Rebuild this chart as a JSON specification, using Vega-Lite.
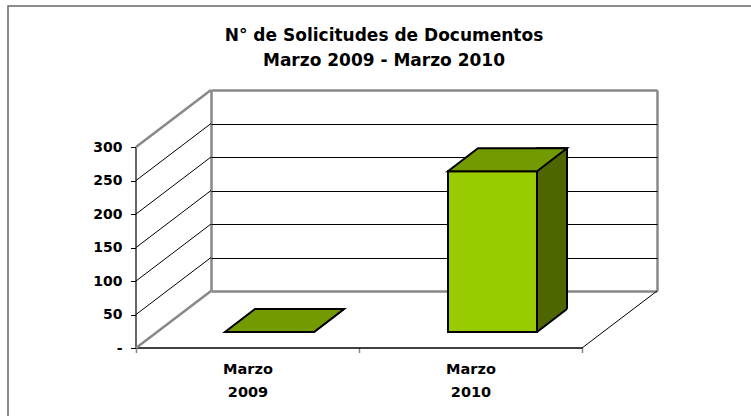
{
  "$schema": "https://vega.github.io/schema/vega-lite/v6.json",
  "width": 743,
  "height": 410,
  "autosize": {"type": "none"},
  "padding": {"left": 8, "top": 6, "right": 0, "bottom": 0},
  "background": "white",
  "config": {
    "view": {"stroke": "#666666", "strokeWidth": 1.5, "strokeDash": [743, 1153, 410]},
    "font": "DejaVu Sans"
  },
  "title": {
    "text": ["N° de Solicitudes de Documentos", "Marzo 2009 - Marzo 2010"],
    "font": "DejaVu Sans",
    "fontSize": 17,
    "fontWeight": "bold",
    "color": "black",
    "lineHeight": 24.7,
    "anchor": "middle",
    "frame": "group",
    "offset": -64,
    "dx": 4.5
  },
  "datasets": {
    "solicitudes": [
      {"mes": "Marzo 2009", "cantidad": 0},
      {"mes": "Marzo 2010", "cantidad": 240}
    ],
    "marcas": [{"v": 0}, {"v": 50}, {"v": 100}, {"v": 150}, {"v": 200}, {"v": 250}, {"v": 300}]
  },
  "data": {"name": "solicitudes"},
  "layer": [
    {
      "data": {"name": "marcas"},
      "mark": {"type": "point", "shape": "M-0.75,0.57L0,0", "size": 40000, "filled": false, "opacity": 1, "xOffset": -111.5},
      "encoding": {
        "x": {"datum": "Marzo 2009", "type": "nominal", "scale": {"domain": ["Marzo 2009", "Marzo 2010"], "range": [203, 649], "paddingInner": 0, "paddingOuter": 0}, "axis": null},
        "y": {"field": "v", "type": "quantitative", "scale": {"domain": [0, 300], "range": [285, 84], "nice": false}, "axis": null},
        "stroke": {"condition": {"test": "datum.v === 0 || datum.v === 300", "value": "#888888"}, "value": "black"},
        "strokeWidth": {"condition": {"test": "datum.v === 0 || datum.v === 300", "value": 2.5}, "value": 1}
      }
    },
    {
      "data": {"values": [{}]},
      "mark": {"type": "point", "shape": "M-0.75,0.57L0,0", "size": 40000, "filled": false, "opacity": 1, "xOffset": 111.5, "stroke": "black", "strokeWidth": 1},
      "encoding": {
        "x": {"datum": "Marzo 2010", "type": "nominal", "axis": null},
        "y": {"datum": 0, "type": "quantitative", "axis": null}
      }
    },
    {
      "mark": {"type": "bar", "width": 30, "xOffset": 6.5, "yOffset": 18, "y2Offset": 41, "fill": "#4d6600", "stroke": "black", "strokeWidth": 2},
      "encoding": {
        "x": {
          "field": "mes", "type": "nominal",
          "axis": {
            "orient": "top", "grid": true, "tickBand": "extent",
            "gridColor": {"condition": {"test": "datum.value === 'Marzo 2009'", "value": "transparent"}, "value": "#888888"},
            "gridWidth": 2.5, "labels": false, "ticks": false, "domain": false, "title": null
          }
        },
        "y": {
          "field": "cantidad", "type": "quantitative", "stack": null,
          "axis": {
            "orient": "left", "grid": true, "values": [0, 50, 100, 150, 200, 250, 300],
            "gridColor": {"condition": {"test": "datum.value === 0 || datum.value === 300", "value": "#888888"}, "value": "black"},
            "gridWidth": {"condition": {"test": "datum.value === 0 || datum.value === 300", "value": 2.5}, "value": 1},
            "labels": false, "ticks": false, "domain": false, "title": null
          }
        },
        "y2": {"datum": 0}
      }
    },
    {
      "mark": {"type": "point", "shape": "M0,0L0,0.025L0.325,0.025L0.325,-0.23L0.3,-0.23Z", "size": 40000, "filled": true, "opacity": 1, "fill": "white", "stroke": null, "xOffset": -8.5, "yOffset": 41},
      "encoding": {
        "x": {"field": "mes", "type": "nominal", "axis": null},
        "y": {"datum": 0, "type": "quantitative", "axis": null}
      }
    },
    {
      "mark": {"type": "point", "shape": "M0,0L0.3,-0.23", "size": 40000, "filled": false, "opacity": 1, "stroke": "black", "strokeWidth": 2, "xOffset": -8.5, "yOffset": 41},
      "encoding": {
        "x": {"field": "mes", "type": "nominal", "axis": null},
        "y": {"datum": 0, "type": "quantitative", "axis": null}
      }
    },
    {
      "mark": {"type": "bar", "width": 89, "xOffset": -53, "yOffset": 41, "y2Offset": 41, "fill": "#99cc00", "stroke": "black", "strokeWidth": 2},
      "encoding": {
        "x": {
          "field": "mes", "type": "nominal",
          "axis": {
            "orient": "bottom", "position": -75, "offset": -68.5, "tickBand": "extent",
            "domainColor": "black", "domainWidth": 1.5, "tickColor": "#888888", "tickSize": 5, "tickWidth": 1.5,
            "labelExpr": "split(datum.label, ' ')", "labelFont": "DejaVu Sans", "labelFontWeight": "bold",
            "labelFontSize": 14.5, "labelColor": "black", "labelLineHeight": 22.7, "labelPadding": 10,
            "labelAngle": 0, "title": null, "grid": false
          }
        },
        "y": {
          "field": "cantidad", "type": "quantitative", "stack": null,
          "axis": {
            "orient": "left", "position": 57, "offset": -127.5, "values": [0, 50, 100, 150, 200, 250, 300],
            "domainColor": "black", "domainWidth": 1.2, "tickColor": "black", "tickSize": 5, "tickWidth": 1,
            "labelExpr": "datum.value === 0 ? '-    ' : datum.label",
            "labelFont": "DejaVu Sans", "labelFontWeight": "bold", "labelFontSize": 14, "labelColor": "black",
            "labelPadding": 8.5, "grid": false, "title": null
          }
        },
        "y2": {"datum": 0}
      }
    },
    {
      "mark": {"type": "point", "shape": "M-0.445,0L0.445,0L0.745,-0.23L-0.145,-0.23Z", "size": 40000, "filled": true, "opacity": 1, "fill": "#739a00", "stroke": "black", "strokeWidth": 2, "xOffset": -53, "yOffset": 41},
      "encoding": {
        "x": {"field": "mes", "type": "nominal", "axis": null},
        "y": {"field": "cantidad", "type": "quantitative", "axis": null}
      }
    }
  ],
  "resolve": {"axis": {"x": "independent", "y": "independent"}}
}
